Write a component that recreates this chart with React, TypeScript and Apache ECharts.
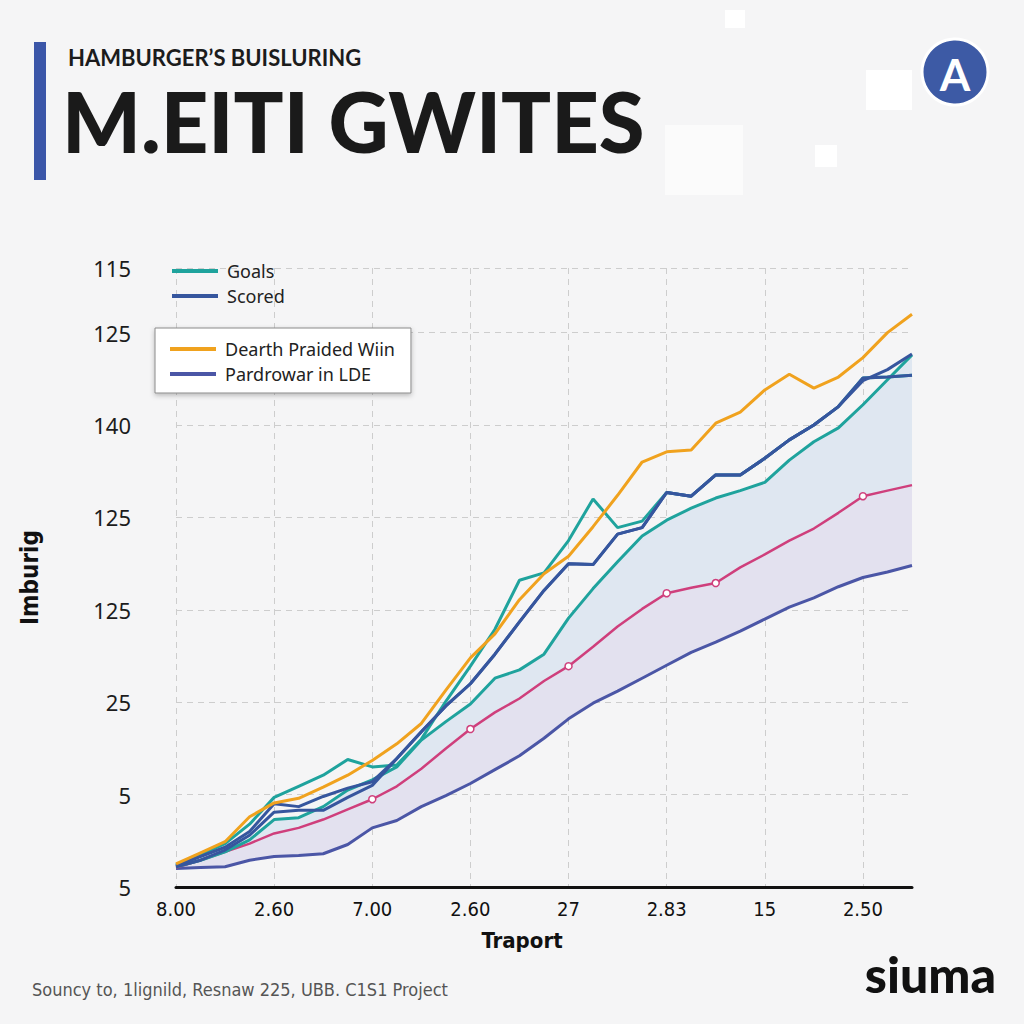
import React, { useEffect, useRef } from "react";
import * as echarts from "echarts";

// ---- tick labels ----
const xTickLabels = ["8.00", "2.60", "7.00", "2.60", "27", "2.83", "15", "2.50"];
const yTickLabels = ["5", "5", "25", "125", "125", "140", "125", "115"];

// ---- series values (31 points, 4 points per x tick) ----
const dearthPraidedWiin = [0.25, 0.37, 0.49, 0.76, 0.91, 0.96, 1.08, 1.21, 1.37, 1.55, 1.77, 2.13, 2.48, 2.74, 3.11, 3.39, 3.58, 3.9, 4.24, 4.6, 4.71, 4.73, 5.02, 5.14, 5.38, 5.55, 5.4, 5.52, 5.73, 6.0, 6.2];
const scored = [0.23, 0.33, 0.43, 0.6, 0.9, 0.87, 0.98, 1.07, 1.14, 1.39, 1.68, 1.96, 2.2, 2.52, 2.87, 3.21, 3.5, 3.49, 3.82, 3.89, 4.27, 4.23, 4.46, 4.46, 4.64, 4.84, 5.0, 5.2, 5.51, 5.52, 5.54];
const goals = [0.24, 0.35, 0.47, 0.68, 0.97, 1.09, 1.21, 1.38, 1.3, 1.32, 1.6, 2.01, 2.39, 2.79, 3.32, 3.4, 3.75, 4.2, 3.89, 3.96, 4.27, 4.23, 4.46, 4.46, 4.64, 4.84, 5.0, 5.2, 5.51, 5.52, 5.54];
const goalsTrend = [0.22, 0.29, 0.38, 0.51, 0.73, 0.75, 0.87, 1.05, 1.16, 1.3, 1.59, 1.79, 1.98, 2.26, 2.35, 2.52, 2.91, 3.23, 3.52, 3.8, 3.97, 4.1, 4.21, 4.29, 4.38, 4.62, 4.82, 4.97, 5.22, 5.49, 5.76];
const scoredTrend = [0.22, 0.29, 0.4, 0.56, 0.81, 0.83, 0.83, 0.97, 1.1, 1.39, 1.68, 1.96, 2.2, 2.52, 2.87, 3.21, 3.5, 3.49, 3.82, 3.89, 4.27, 4.23, 4.46, 4.46, 4.64, 4.84, 5.0, 5.2, 5.48, 5.6, 5.77];
const projection = [0.21, 0.29, 0.38, 0.47, 0.58, 0.64, 0.73, 0.84, 0.95, 1.09, 1.28, 1.5, 1.71, 1.89, 2.04, 2.23, 2.39, 2.6, 2.82, 3.01, 3.18, 3.24, 3.29, 3.46, 3.6, 3.75, 3.88, 4.05, 4.23, 4.29, 4.35];
const pardrowar = [0.2, 0.21, 0.22, 0.29, 0.33, 0.34, 0.36, 0.46, 0.64, 0.72, 0.87, 0.99, 1.12, 1.27, 1.42, 1.61, 1.82, 1.99, 2.12, 2.26, 2.4, 2.54, 2.65, 2.77, 2.9, 3.03, 3.13, 3.25, 3.35, 3.41, 3.48];
const projectionMarkerIdx = [8, 12, 16, 20, 22, 28];

const POINTS_PER_TICK = 4;
const categories = pardrowar.map((_, i) =>
  i % POINTS_PER_TICK === 0 ? xTickLabels[i / POINTS_PER_TICK] : "p" + i
);

const C_TEAL = "#1fa39d";
const C_BLUE = "#36569e";
const C_ORANGE = "#f0a21e";
const C_PURPLE = "#4b56a6";
const C_MAGENTA = "#cf3f7c";
const NARROW = "'DejaVu Sans Condensed', Roboto, sans-serif";

export default function App() {
  const ref = useRef<HTMLDivElement>(null);
  useEffect(() => {
    if (!ref.current) return;
    const chart = echarts.init(ref.current, undefined, { renderer: "svg" });

    const lowerBand = projection.map((v, i) => +(v - pardrowar[i]).toFixed(3));
    const upperBand = goalsTrend.map((v, i) => +(v - projection[i]).toFixed(3));

    const lineBase = (name: string, data: any[], color: string, width = 3, z = 3) => ({
      name,
      type: "line",
      data,
      symbol: "none",
      showSymbol: false,
      lineStyle: { color, width },
      itemStyle: { color },
      z,
    });

    const option: any = {
      animation: false,
      backgroundColor: "#f5f5f6",
      textStyle: { fontFamily: "Noto Sans" },
      grid: { left: 176, right: 112, top: 268, bottom: 137 },
      legend: [
        {
          left: 172,
          top: 262,
          orient: "vertical",
          padding: 0,
          icon: "rect",
          itemWidth: 46,
          itemHeight: 4,
          itemGap: 7,
          data: ["Goals", "Scored"],
          textStyle: { fontSize: 18, color: "#222", fontFamily: "Noto Sans", padding: [0, 0, 0, 4] },
        },
        {
          left: 155,
          top: 328,
          orient: "vertical",
          padding: [12, 16, 10, 15],
          icon: "rect",
          itemWidth: 46,
          itemHeight: 4,
          itemGap: 7,
          borderColor: "#8a8a8a",
          borderWidth: 1,
          backgroundColor: "#ffffff",
          shadowBlur: 5,
          shadowOffsetY: 2,
          shadowColor: "rgba(0,0,0,0.25)",
          data: ["Dearth Praided Wiin", "Pardrowar in LDE"],
          textStyle: { fontSize: 18, color: "#222", fontFamily: "Noto Sans", padding: [0, 0, 0, 4] },
        },
      ],
      xAxis: {
        type: "category",
        data: categories,
        boundaryGap: false,
        name: "Traport",
        nameLocation: "middle",
        nameGap: 42,
        nameTextStyle: { fontSize: 22, fontWeight: "bold", color: "#111", fontFamily: NARROW, padding: [0, 44, 0, 0] },
        axisLine: { lineStyle: { color: "#111", width: 3 } },
        axisTick: { show: false },
        axisLabel: { interval: POINTS_PER_TICK - 1, fontSize: 20, color: "#111", margin: 12, fontFamily: NARROW },
        splitLine: { show: true, interval: POINTS_PER_TICK - 1, lineStyle: { color: "#cdcdcd", type: [6, 5], width: 1 } },
      },
      yAxis: {
        type: "value",
        min: 0,
        max: 6.7,
        interval: 1,
        name: "Imburig",
        nameLocation: "middle",
        nameRotate: 90,
        nameGap: 134,
        nameTextStyle: { fontSize: 24, fontWeight: "bold", color: "#111", fontFamily: NARROW },
        axisLine: { show: false },
        axisTick: { show: false },
        axisLabel: {
          fontSize: 22,
          color: "#1c1c1c",
          margin: 45,
          fontFamily: "Noto Sans",
          formatter: (_v: number, idx: number) => yTickLabels[idx] ?? "",
        },
        splitLine: { show: true, lineStyle: { color: "#cdcdcd", type: [6, 5], width: 1 } },
      },
      graphic: [
        { type: "rect", z: -10, shape: { x: 665, y: 125, width: 78, height: 70 }, style: { fill: "#fbfbfb" } },
        { type: "rect", z: -10, shape: { x: 866, y: 70, width: 46, height: 40 }, style: { fill: "#ffffff" } },
        { type: "rect", z: -10, shape: { x: 815, y: 145, width: 22, height: 22 }, style: { fill: "#ffffff" } },
        { type: "rect", z: -10, shape: { x: 725, y: 10, width: 20, height: 18 }, style: { fill: "#ffffff" } },
        { type: "rect", z: 10, shape: { x: 34, y: 42, width: 12, height: 138 }, style: { fill: "#3b56a8" } },
        {
          type: "text", z: 10, x: 68, y: 57,
          style: { text: "HAMBURGER’S BUISLURING", fontSize: 22, fontWeight: "bold", fontFamily: "Lato", fill: "#1c1c1c", textAlign: "left", textVerticalAlign: "middle" },
        },
        {
          type: "text", z: 10, x: 62, y: 121,
          style: { text: "M.EITI GWITES", fontSize: 83, fontWeight: 900, fontFamily: "Lato", fill: "#1a1a1a", textAlign: "left", textVerticalAlign: "middle" },
        },
        { type: "circle", z: 10, shape: { cx: 955, cy: 72, r: 33 }, style: { fill: "#3d5aa5", stroke: "#ffffff", lineWidth: 3 } },
        {
          type: "text", z: 11, x: 955, y: 74,
          style: { text: "A", fontSize: 44, fontWeight: "bold", fontFamily: "Lato", fill: "#ffffff", textAlign: "center", textVerticalAlign: "middle" },
        },
        {
          type: "text", z: 10, x: 32, y: 989,
          style: { text: "Souncy to, 1lignild, Resnaw 225, UBB. C1S1 Project", fontSize: 18, fontFamily: NARROW, fill: "#555", textAlign: "left", textVerticalAlign: "middle" },
        },
        {
          type: "text", z: 10, x: 996, y: 974,
          style: { text: "siuma", fontSize: 50, fontWeight: 900, fontFamily: "Lato", fill: "#111", textAlign: "right", textVerticalAlign: "middle" },
        },
      ],
      series: [
        {
          name: "base",
          type: "line",
          stack: "band",
          data: pardrowar,
          symbol: "none",
          lineStyle: { opacity: 0 },
          silent: true,
          z: 1,
        },
        {
          name: "lowerBand",
          type: "line",
          stack: "band",
          data: lowerBand,
          symbol: "none",
          lineStyle: { opacity: 0 },
          areaStyle: { color: "#e3e1ef", opacity: 1 },
          silent: true,
          z: 1,
        },
        {
          name: "upperBand",
          type: "line",
          stack: "band",
          data: upperBand,
          symbol: "none",
          lineStyle: { opacity: 0 },
          areaStyle: { color: "#dfe7f1", opacity: 1 },
          silent: true,
          z: 1,
        },
        lineBase("Pardrowar in LDE", pardrowar, C_PURPLE, 3, 3),
        {
          ...lineBase("Projection", projection.map((v, i) =>
            projectionMarkerIdx.includes(i)
              ? { value: v, symbol: "circle", symbolSize: 7 }
              : { value: v, symbol: "none" }
          ), C_MAGENTA, 2.5, 3),
          showSymbol: true,
          symbol: "none",
          itemStyle: { color: "#ffffff", borderColor: C_MAGENTA, borderWidth: 1.5 },
        },
        lineBase("Goals trend", goalsTrend, C_TEAL, 3, 4),
        lineBase("Goals", goals, C_TEAL, 3, 4),
        lineBase("Scored trend", scoredTrend, C_BLUE, 3, 5),
        lineBase("Scored", scored, C_BLUE, 3, 5),
        lineBase("Dearth Praided Wiin", dearthPraidedWiin, C_ORANGE, 3, 6),
      ],
    };
    chart.setOption(option);
    return () => chart.dispose();
  }, []);
  return (
    <div
      ref={ref}
      style={{ position: "fixed", left: 0, top: 0, width: 1024, height: 1024 }}
    />
  );
}
